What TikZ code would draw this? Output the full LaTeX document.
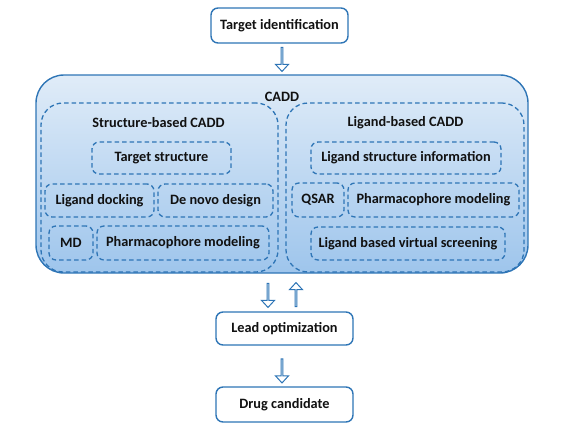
\documentclass[tikz,border=0pt]{standalone}
\usepackage{fontspec}
\setmainfont{Carlito}
\usetikzlibrary{shapes.arrows}
\definecolor{bl}{HTML}{2E75B6}
\definecolor{topc}{HTML}{E0ECF8}
\definecolor{botc}{HTML}{9EC5EC}
\definecolor{txt}{HTML}{111111}
\tikzset{
  lbl/.style={font=\fontsize{14.3}{16}\selectfont\bfseries, text=txt, inner sep=0pt},
  solidbox/.style={lbl, draw=bl, line width=1.4pt, fill=white, rounded corners=7pt},
  dbox/.style={lbl, draw=bl, line width=1.3pt, dash pattern=on 4.5pt off 3pt, rounded corners=7pt},
  groupbox/.style={draw=bl, line width=1.3pt, dash pattern=on 4.5pt off 3pt, rounded corners=22pt, inner sep=0pt},
  bigbox/.style={draw=bl, line width=1.4pt, rounded corners=28pt, top color=topc, bottom color=botc, inner sep=0pt},
  hollow/.style={single arrow, draw=bl, line width=1pt, fill=white, minimum width=13pt, minimum height=24pt, single arrow head extend=3.5pt, single arrow tip angle=85, inner sep=0pt},
  hdown/.style={hollow, shape border rotate=270},
  hup/.style={hollow, shape border rotate=90}
}
\begin{document}
\begin{tikzpicture}[x=1pt,y=-1pt]
\useasboundingbox (0,0) rectangle (562,426);
% top
\node[solidbox, minimum width=137pt, minimum height=35pt] (ti) at (279.5,25.5) {Target identification};
% CADD
\node[bigbox, minimum width=492pt, minimum height=198pt] (cadd) at (282,174) {};
\node[lbl] (caddl) at (282,97) {CADD};
\node[groupbox, minimum width=237pt, minimum height=169pt] (sb) at (159.5,187.5) {};
\node[groupbox, minimum width=238pt, minimum height=169pt] (lb) at (405,187.5) {};
\node[lbl] (sbl) at (158.5,123) {Structure-based CADD};
\node[lbl] (lbl) at (405.5,123) {Ligand-based CADD};
% structure based
\node[dbox, minimum width=139pt, minimum height=32pt] (ts) at (161.5,158) {Target structure};
\node[dbox, minimum width=109pt, minimum height=33pt] (ld) at (99.5,200.5) {Ligand docking};
\node[dbox, minimum width=115pt, minimum height=33pt] (dn) at (215.5,200.5) {De novo design};
\node[dbox, minimum width=44pt, minimum height=34pt] (md) at (71,243) {MD};
\node[dbox, minimum width=172pt, minimum height=34pt] (pm1) at (183,243) {Pharmacophore modeling};
% ligand based
\node[dbox, minimum width=190pt, minimum height=32pt] (lsi) at (406,158) {Ligand structure information};
\node[dbox, minimum width=52pt, minimum height=34pt] (qs) at (318,200) {QSAR};
\node[dbox, minimum width=171pt, minimum height=34pt] (pm2) at (433.5,200) {Pharmacophore modeling};
\node[dbox, minimum width=194pt, minimum height=33pt] (lv) at (408,243.5) {Ligand based virtual screening};
% bottom
\node[solidbox, minimum width=137pt, minimum height=33pt] (lo) at (284.5,328.5) {Lead optimization};
\node[solidbox, minimum width=137pt, minimum height=35pt] (dc) at (284.5,404.5) {Drug candidate};
% arrows
\node[hdown] (a1) at (282,59) {};
\node[hdown] (a2) at (268,295) {};
\node[hup] (a3) at (296,295) {};
\node[hdown] (a4) at (282,370.5) {};
\end{tikzpicture}
\end{document}
